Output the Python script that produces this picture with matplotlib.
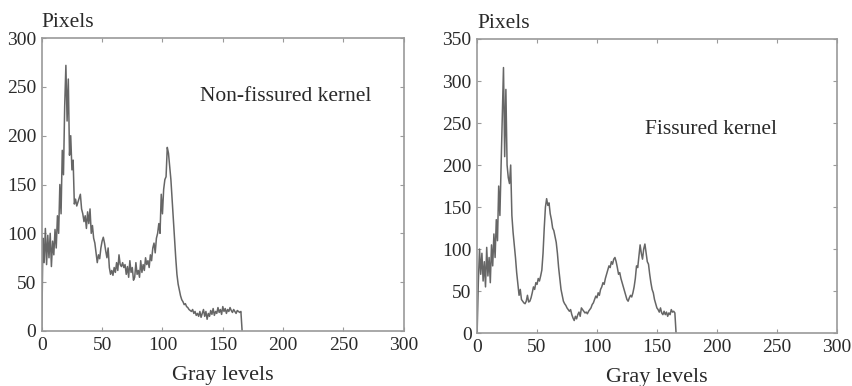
import numpy as np
import matplotlib.pyplot as plt

# gray-level histograms of the two kernel images (counts per gray level)
non_fissured = [
    0, 95, 70, 105, 68, 98, 75, 100, 66, 92,
    78, 104, 85, 118, 100, 150, 120, 185, 160, 230,
    272, 215, 258, 180, 200, 165, 175, 130, 135, 128,
    132, 136, 140, 125, 120, 112, 118, 105, 122, 110,
    125, 100, 108, 95, 90, 80, 70, 78, 74, 85,
    92, 96, 90, 82, 75, 85, 65, 58, 62, 57,
    65, 60, 70, 62, 78, 68, 66, 70, 65, 68,
    58, 66, 55, 72, 60, 65, 52, 55, 70, 58,
    62, 55, 72, 60, 68, 62, 75, 68, 72, 65,
    78, 72, 85, 90, 80, 95, 100, 110, 100, 140,
    120, 145, 155, 158, 188, 182, 168, 155, 135, 115,
    95, 75, 58, 48, 42, 36, 32, 30, 27, 28,
    25, 24, 22, 21, 20, 22, 18, 20, 16, 18,
    15, 20, 14, 18, 22, 15, 20, 12, 18, 15,
    21, 17, 23, 16, 20, 18, 24, 19, 22, 17,
    25, 20, 23, 18, 22, 20, 24, 21, 19, 22,
    20, 18, 21, 20, 19, 20, 0,
]

fissured = [
    0, 60, 100, 70, 95, 62, 85, 55, 102, 68,
    90, 60, 105, 80, 118, 90, 135, 110, 175, 140,
    200, 260, 316, 210, 290, 200, 185, 178, 200, 140,
    120, 105, 90, 72, 58, 45, 52, 40, 38, 36,
    35, 38, 45, 37, 38, 42, 48, 55, 52, 60,
    58, 65, 62, 68, 75, 95, 125, 150, 160, 152,
    155, 142, 135, 125, 122, 115, 108, 95, 78, 65,
    52, 45, 38, 35, 33, 30, 28, 26, 28, 22,
    18, 15, 20, 17, 22, 25, 20, 30, 28, 26,
    24, 25, 23, 26, 28, 30, 34, 36, 40, 44,
    42, 48, 45, 52, 55, 60, 58, 65, 70, 75,
    80, 78, 85, 82, 88, 90, 85, 78, 70, 72,
    65, 60, 55, 50, 45, 40, 38, 42, 45, 43,
    48, 55, 65, 80, 78, 92, 105, 95, 88, 100,
    106, 95, 85, 82, 70, 60, 52, 48, 40, 35,
    30, 28, 25, 30, 24, 22, 26, 22, 25, 20,
    24, 22, 28, 25, 26, 24, 0,
]

titles = ["Non-fissured kernel", "Fissured kernel"]
y_maxes = [300, 350]

plt.rcParams['font.family'] = ['Liberation Serif', 'DejaVu Serif']

line_col = '#666666'
frame_col = '#9a9a9a'
text_col = '#2a2a2a'

fig = plt.figure(figsize=(8.52, 3.86), dpi=100)
ax1 = fig.add_axes([0.049, 0.1425, 0.425, 0.759])
ax2 = fig.add_axes([0.560, 0.137, 0.422, 0.762])

series = [non_fissured, fissured]
label_pos = [(131, 240), (140, 242)]

for ax, counts, title, ymax, pos in zip([ax1, ax2], series, titles, y_maxes, label_pos):
    levels = np.arange(len(counts))
    ax.plot(levels, counts, color=line_col, lw=1.1)

    ax.set_xlim(0, 300)
    ax.set_ylim(0, ymax)
    ax.set_xticks(np.arange(0, 301, 50))
    ax.set_yticks(np.arange(0, ymax + 1, 50))
    ax.tick_params(direction='in', length=3, width=0.8, color=frame_col,
                   labelcolor=text_col, labelsize=14, top=True, right=True, pad=4)
    for s in ax.spines.values():
        s.set_color(frame_col)
        s.set_linewidth(1.2)

    ax.set_xlabel("Gray levels", color=text_col, fontsize=16, labelpad=9)
    ax.text(0.0, 1.02, "Pixels", transform=ax.transAxes, color=text_col,
            fontsize=15.5, ha='left', va='bottom')
    ax.text(pos[0], pos[1], title, color=text_col, fontsize=15.5,
            ha='left', va='center')

fig.savefig("out.png", dpi=100)
